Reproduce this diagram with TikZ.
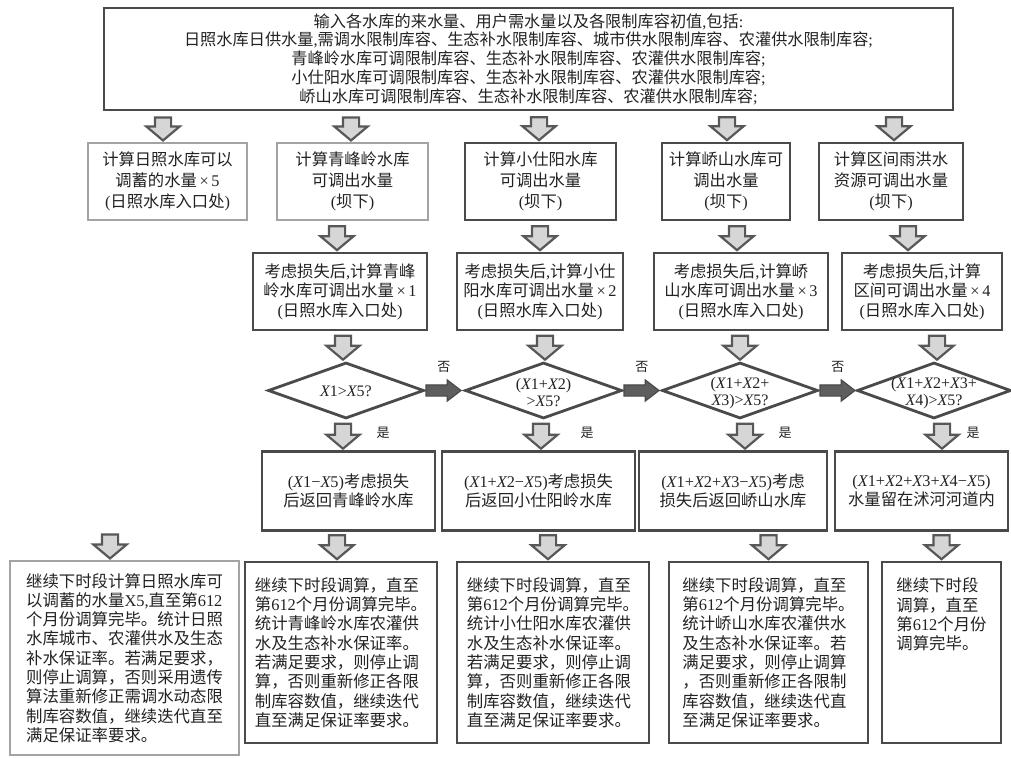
\documentclass[tikz,border=0pt]{standalone}
\usepackage{fontspec}
\setmainfont{Noto Sans CJK SC}
\newfontfamily\tnr{Liberation Serif}
\usetikzlibrary{shapes.geometric,shapes.arrows,calc}
\newcommand{\myT}[1]{{\tnr #1}}
\newcommand{\myX}{{\tnr\itshape X}}
\definecolor{dk}{HTML}{4A4A4A}
\definecolor{lt}{HTML}{A3A3A3}
\definecolor{afill}{HTML}{D6D6D6}
\definecolor{aline}{HTML}{585858}
\definecolor{hfill}{HTML}{5E5E5E}
\definecolor{txt}{HTML}{222222}
\begin{document}
\begin{tikzpicture}[x=1pt,y=-1pt,
  box/.style={draw=dk, line width=2.8pt, rectangle, inner sep=0pt, align=center, text=txt},
  ltbox/.style={box, draw=lt, line width=2.2pt},
  ftop/.style={font=\fontsize{16.2}{18.8}\selectfont},
  fone/.style={font=\fontsize{16.3}{21}\selectfont},
  ftwo/.style={font=\fontsize{16.3}{19.5}\selectfont},
  ffour/.style={font=\fontsize{16.4}{19.3}\selectfont, align=left},
  dia/.style={diamond, draw=dk, line width=2.8pt, inner sep=0pt, minimum height=56pt},
  dtxt/.style={font=\tnr\fontsize{16}{17}\selectfont, align=center, text=txt, inner sep=0pt},
  varrow/.style={single arrow, rotate=-90, anchor=tip, draw=aline, fill=afill, line width=2.2pt,
    inner sep=7pt, single arrow head extend=8.5pt, single arrow tip angle=100, minimum height=24pt},
  harrow/.style={single arrow, anchor=tail, draw=dk, fill=hfill, line width=1.2pt,
    inner sep=5pt, single arrow head extend=5pt, single arrow tip angle=75, minimum height=35pt},
  lbl/.style={font=\fontsize{13}{13}\selectfont, text=txt, inner sep=0pt}
]
\useasboundingbox (0,0) rectangle (1011,757);
\fill[white] (0,0) rectangle (1011,757);

% top box
\node[box, ftop, minimum width=849pt, minimum height=102pt] (top) at (528.5,59) {%
输入各水库的来水量、用户需水量以及各限制库容初值\myT{,}包括\myT{:}\\
日照水库日供水量\myT{,}需调水限制库容、生态补水限制库容、城市供水限制库容、农灌供水限制库容\myT{;}\\
青峰岭水库可调限制库容、生态补水限制库容、农灌供水限制库容\myT{;}\\
小仕阳水库可调限制库容、生态补水限制库容、农灌供水限制库容\myT{;}\\
峤山水库可调限制库容、生态补水限制库容、农灌供水限制库容\myT{;}};

% row 1
\node[ltbox, fone, minimum width=159pt, minimum height=77pt] (r1a) at (167.5,181.5)
  {计算日照水库可以\\调蓄的水量\myT{\,×\,5}\\\myT{(}日照水库入口处\myT{)}};
\node[ltbox, fone, minimum width=151pt, minimum height=77pt] (r1b) at (352.5,181.5)
  {计算青峰岭水库\\可调出水量\\\myT{(}坝下\myT{)}};
\node[box, fone, minimum width=151pt, minimum height=77pt] (r1c) at (540.5,181.5)
  {计算小仕阳水库\\可调出水量\\\myT{(}坝下\myT{)}};
\node[box, fone, minimum width=128pt, minimum height=77pt] (r1d) at (726,181.5)
  {计算峤山水库可\\调出水量\\\myT{(}坝下\myT{)}};
\node[box, fone, minimum width=144pt, minimum height=77pt] (r1e) at (891,181.5)
  {计算区间雨洪水\\资源可调出水量\\\myT{(}坝下\myT{)}};

% row 2
\node[box, ftwo, minimum width=174pt, minimum height=77pt] (r2a) at (340,291.5)
  {考虑损失后\myT{,}计算青峰\\岭水库可调出水量\myT{\,×\,1}\\\myT{(}日照水库入口处\myT{)}};
\node[box, ftwo, minimum width=166pt, minimum height=77pt] (r2b) at (540,291.5)
  {考虑损失后\myT{,}计算小仕\\阳水库可调出水量\myT{\,×\,2}\\\myT{(}日照水库入口处\myT{)}};
\node[box, ftwo, minimum width=174pt, minimum height=77pt] (r2c) at (741,291.5)
  {考虑损失后\myT{,}计算峤\\山水库可调出水量\myT{\,×\,3}\\\myT{(}日照水库入口处\myT{)}};
\node[box, ftwo, minimum width=160pt, minimum height=77pt] (r2d) at (922,291.5)
  {考虑损失后\myT{,}计算\\区间可调出水量\myT{\,×\,4}\\\myT{(}日照水库入口处\myT{)}};

% diamonds
\node[dia, minimum width=156pt] (d1) at (346,390.5) {};
\node[dia, minimum width=157pt] (d2) at (543.5,390.5) {};
\node[dia, minimum width=156pt] (d3) at (740,390.5) {};
\node[dia, minimum width=154pt] (d4) at (934,390.5) {};
\node[dtxt] at ([yshift=-1pt]d1.center) {\myX1>\myX5?};
\node[dtxt] at ([yshift=-2.5pt]d2.center) {(\myX1+\myX2)\\>\myX5?};
\node[dtxt] at ([yshift=-2.5pt]d3.center) {(\myX1+\myX2+\\\myX3)>\myX5?};
\node[dtxt] at ([yshift=-2.5pt]d4.center) {(\myX1+\myX2+\myX3+\\\myX4)>\myX5?};

% row 3
\node[box, ftwo, minimum width=173pt, minimum height=79pt] (r3a) at (348.5,491)
  {\myT{(\myX1−\myX5)}考虑损失\\后返回青峰岭水库};
\node[box, ftwo, minimum width=193pt, minimum height=79pt] (r3b) at (538.5,491)
  {\myT{(\myX1+\myX2−\myX5)}考虑损失\\后返回小仕阳岭水库};
\node[box, ftwo, minimum width=188pt, minimum height=79pt] (r3c) at (733,491)
  {\myT{(\myX1+\myX2+\myX3−\myX5)}考虑\\损失后返回峤山水库};
\node[box, ftwo, minimum width=173pt, minimum height=79pt] (r3d) at (921.5,491)
  {\myT{(\myX1+\myX2+\myX3+\myX4−\myX5)}\\水量留在沭河河道内};

% row 4
\node[ltbox, ffour, minimum width=229pt, minimum height=194pt] (r4a) at (124.5,658)
  {继续下时段计算日照水库可\\以调蓄的水量\myT{X5,}直至第\myT{612}\\个月份调算完毕。统计日照\\水库城市、农灌供水及生态\\补水保证率。若满足要求，\\则停止调算，否则采用遗传\\算法重新修正需调水动态限\\制库容数值，继续迭代直至\\满足保证率要求。};
\node[box, ffour, minimum width=192pt, minimum height=181pt] (r4b) at (341,652.5)
  {继续下时段调算，直至\\第\myT{612}个月份调算完毕。\\统计青峰岭水库农灌供\\水及生态补水保证率。\\若满足要求，则停止调\\算，否则重新修正各限\\制库容数值，继续迭代\\直至满足保证率要求。};
\node[box, ffour, minimum width=192pt, minimum height=181pt] (r4c) at (553,652.5)
  {继续下时段调算，直至\\第\myT{612}个月份调算完毕。\\统计小仕阳水库农灌供\\水及生态补水保证率。\\若满足要求，则停止调\\算，否则重新修正各限\\制库容数值，继续迭代\\直至满足保证率要求。};
\node[box, ffour, minimum width=199pt, minimum height=181pt] (r4d) at (768.5,652.5)
  {继续下时段调算，直至\\第\myT{612}个月份调算完毕。\\统计峤山水库农灌供水\\及生态补水保证率。若\\满足要求，则停止调算\\，否则重新修正各限制\\库容数值，继续迭代直\\至满足保证率要求。};
\node[box, ffour, minimum width=119pt, minimum height=181pt] (r4e) at (941.5,652.5)
  {继续下时段\\调算，直至\\第\myT{612}个月份\\调算完毕。\\~\\~\\~\\~};

% arrows top -> row1
\node[varrow, minimum height=23pt] (a0a) at ([xshift=-4.5pt]r1a.north) {};
\node[varrow, minimum height=23pt] (a0b) at ([xshift=-1.5pt]r1b.north) {};
\node[varrow, minimum height=23pt] (a0c) at ([xshift=-1.5pt]r1c.north) {};
\node[varrow, minimum height=23pt] (a0d) at ([xshift=1pt]r1d.north) {};
\node[varrow, minimum height=23pt] (a0e) at ([xshift=3pt]r1e.north) {};
% row1 -> row2
\node[varrow] (a1a) at ([xshift=-3pt]r2a.north) {};
\node[varrow] (a1b) at ([xshift=0pt]r2b.north) {};
\node[varrow] (a1c) at ([xshift=-4pt]r2c.north) {};
\node[varrow] (a1d) at ([xshift=-14pt]r2d.north) {};
% row2 -> diamonds
\node[varrow] (a2a) at ([xshift=-3pt]d1.north) {};
\node[varrow] (a2b) at ([xshift=1.5pt]d2.north) {};
\node[varrow] (a2c) at ([xshift=0pt]d3.north) {};
\node[varrow] (a2d) at ([xshift=3pt]d4.north) {};
% diamonds -> row3
\node[varrow, minimum height=25pt] (a3a) at ([xshift=-5.5pt]r3a.north) {};
\node[varrow, minimum height=25pt] (a3b) at ([xshift=2.5pt]r3b.north) {};
\node[varrow, minimum height=25pt] (a3c) at ([xshift=12pt]r3c.north) {};
\node[varrow, minimum height=25pt] (a3d) at ([xshift=20.5pt]r3d.north) {};
\node[lbl] at ([xshift=40pt]a3a.center) {是};
\node[lbl] at ([xshift=46pt]a3b.center) {是};
\node[lbl] at ([xshift=40pt]a3c.center) {是};
\node[lbl] at ([xshift=31pt]a3d.center) {是};
% no arrows
\node[harrow] (h1) at (d1.east) {};
\node[harrow] (h2) at (d2.east) {};
\node[harrow] (h3) at (d3.east) {};
\node[lbl] at ([xshift=4pt,yshift=24pt]h1.center) {否};
\node[lbl] at ([xshift=4pt,yshift=24pt]h2.center) {否};
\node[lbl] at ([xshift=4pt,yshift=24pt]h3.center) {否};
% row3 -> row4
\node[varrow] (a4a) at ([xshift=-14.5pt]r4a.north) {};
\node[varrow] (a4b) at ([xshift=-4pt]r4b.north) {};
\node[varrow] (a4c) at ([xshift=-5pt]r4c.north) {};
\node[varrow] (a4d) at ([xshift=0pt]r4d.north) {};
\node[varrow] (a4e) at ([xshift=0pt]r4e.north) {};
\end{tikzpicture}
\end{document}
